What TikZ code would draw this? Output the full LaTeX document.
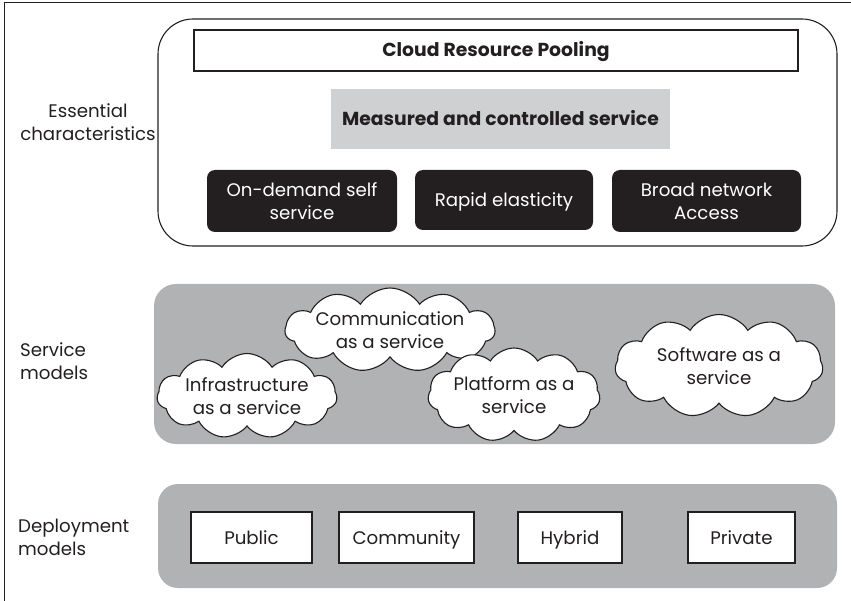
\documentclass[tikz,border=0pt]{standalone}
\usepackage{fontspec}
\setmainfont{Poppins}
\usetikzlibrary{shapes.symbols}
\definecolor{ink}{HTML}{231F20}
\definecolor{panel}{HTML}{B1B2B4}
\definecolor{lightpanel}{HTML}{CFD0D1}
\begin{document}
\begin{tikzpicture}[x=1pt,y=-1pt,
  every node/.style={font=\fontsize{18.2}{23}\selectfont, text=ink, inner sep=0pt, align=center},
  boldtext/.style={font=\fontsize{18.8}{23}\selectfont\bfseries},
  oneline/.style={text height=15pt, text depth=2pt},
  frameline/.style={draw=ink, line width=1pt},
  whitebox/.style={draw=ink, fill=white, line width=1.2pt},
  blackbox/.style={fill=ink, rounded corners=8pt, text=white},
  greypanel/.style={fill=panel, rounded corners=22pt},
  cloudnode/.style={cloud, cloud puffs=11, cloud puff arc=115, cloud ignores aspect, draw=ink, fill=white, line width=1.1pt},
  sidelabel/.style={align=left, anchor=west}
]
\useasboundingbox (0,0) rectangle (851,601);
\coordinate (fa) at (4,601);
\coordinate (fb) at (4,3);
\coordinate (fc) at (851,3);
\draw[frameline] (fa) -- (fb) -- (fc);

% essential characteristics
\node[draw=ink, line width=1.1pt, rounded corners=35pt, minimum width=679, minimum height=227] (ess) at (497.5,132.5) {};
\node[whitebox, boldtext, oneline, minimum width=604, minimum height=41] (pool) at (496,50.5) {Cloud Resource Pooling};
\node[fill=lightpanel, boldtext, oneline, minimum width=339, minimum height=60] (meas) at (500.5,119) {Measured and controlled service};
\node[blackbox, minimum width=190, minimum height=62] (ond) at (302,201) {On-demand self\\service};
\node[blackbox, oneline, minimum width=178, minimum height=60] (rap) at (504,200) {Rapid elasticity};
\node[blackbox, minimum width=189, minimum height=62] (bro) at (706.5,201) {Broad network\\Access};
\node (esslab) at (88,122) {Essential\\characteristics};

% service models
\node[greypanel, minimum width=681, minimum height=160] (svc) at (494.5,364) {};
\node[cloudnode, minimum width=205, minimum height=84] (comm) at (390,330) {Communication\\as a service};
\node[cloudnode, minimum width=180, minimum height=85] (infra) at (247,396) {Infrastructure\\as a service};
\node[cloudnode, minimum width=172, minimum height=94] (plat) at (514,395) {Platform as a\\service};
\node[cloudnode, minimum width=208, minimum height=103] (soft) at (719,366) {Software as a\\service};
\node[sidelabel] (svclab) at (20,361) {Service\\models};

% deployment models
\node[greypanel, rounded corners=20pt, minimum width=679, minimum height=104] (dep) at (497.5,536) {};
\node[whitebox, oneline, minimum width=121, minimum height=51] (pub) at (251.5,537.5) {Public};
\node[whitebox, oneline, minimum width=135, minimum height=51] (com) at (406.5,537.5) {Community};
\node[whitebox, oneline, minimum width=104, minimum height=51] (hyb) at (570,537.5) {Hybrid};
\node[whitebox, oneline, minimum width=107, minimum height=51] (pri) at (741.5,537.5) {Private};
\node[sidelabel] (deplab) at (18,537) {Deployment\\models};
\end{tikzpicture}
\end{document}
